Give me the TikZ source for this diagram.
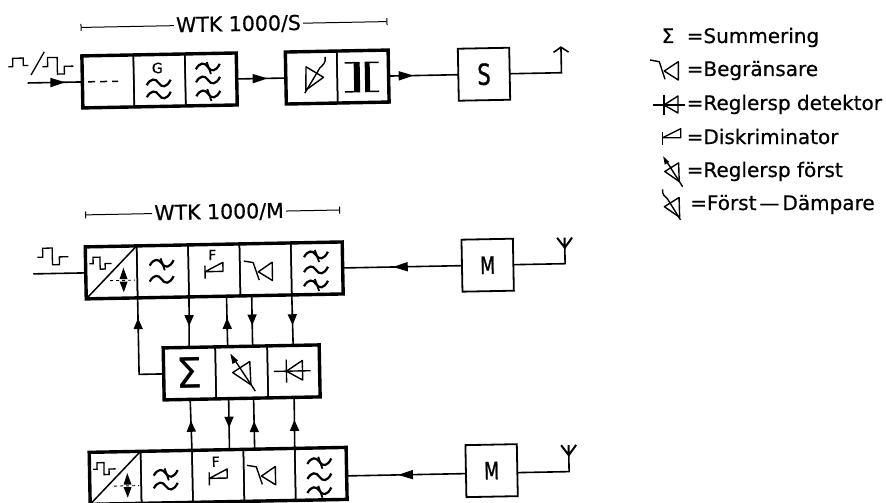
\documentclass[tikz,border=0pt]{standalone}
\usepackage{fontspec}
\setmainfont[FakeBold=0.6]{DejaVu Sans}
\newfontfamily\narrowfont[FakeStretch=.72, FakeBold=1]{DejaVu Sans}
\newfontfamily\sumfont{DejaVu Sans}
\usetikzlibrary{arrows.meta, calc, decorations.markings}
\tikzset{
  cell/.style={
    draw=black, line width=1.5pt, minimum width=51.4pt, minimum height=52pt,
    inner sep=0pt, outer sep=0pt
  },
  block/.style={cell, line width=1.8pt, font=\narrowfont\fontsize{24}{26}\selectfont},
  frame/.style={line width=3.4pt, line join=miter},
  conn/.style={line width=1.6pt},
  arr/.style={
    conn, postaction={decorate},
    decoration={markings, mark=at position #1 with {\arrow{Triangle[length=11pt,width=9pt]}}}
  },
  bigarr/.style={
    conn, postaction={decorate},
    decoration={markings, mark=at position #1 with {\arrow{Triangle[length=15pt,width=9pt]}}}
  },
  span/.style={line width=1pt, {Bar[width=7pt,length=1pt]}-},
  title/.style={font=\fontsize{20.5}{24}\selectfont, inner sep=2pt},
  legend/.style={font=\fontsize{20}{24}\selectfont, anchor=base west, inner sep=0pt},
  tag/.style={font=\fontsize{14}{15}\selectfont, inner sep=0pt},
  glyph/.style={line width=1.4pt, line join=round},
  pics/wave/.style={code={
    \draw[line width=2.2pt] (-12,2) .. controls (-8,-5) and (-3,-5) .. (0,0) .. controls (3,5) and (8,5) .. (12,-3);
  }},
  pics/swave/.style={code={
    \draw[line width=2.2pt] (-12,2) .. controls (-8,-5) and (-3,-5) .. (0,0) .. controls (3,5) and (8,5) .. (12,-3);
    \draw[line width=1.8pt] (-1,-5) -- (3,7);
  }},
  pics/limiter/.style={code={
    \draw[glyph] (-0.7,1) -- (13.3,-8.3) -- (13.3,10) -- cycle;
    \draw[glyph] (-15,-10) -- (-5.7,-8.3) -- (0,9.3);
  }},
  pics/diode/.style={code={
    \draw[glyph] (-16,0) -- (16,0);
    \draw[glyph] (-5,0) -- (9,-9) -- (9,8) -- cycle;
    \draw[glyph] (-5,-10) -- (-5,10);
  }},
  pics/discr/.style={code={
    \draw[glyph] (0,-6) -- (0,7);
    \draw[glyph] (0,0) -- (18,0) -- (18,-9) -- cycle;
  }},
  pics/ampl/.style={code={
    \draw[glyph] (-9,0) -- (8.3,-10.8) -- (9,12.5) -- cycle;
    \draw[glyph] (-7,-13) -- (13.3,19);
    \fill (-11,-19) -- (-3.5,-12) -- (-9,-8.5) -- cycle;
  }},
  pics/damper/.style={code={
    \draw[glyph] (-9,0) -- (8.3,-10.8) -- (9,12.5) -- cycle;
    \draw[glyph] (10,15.5) -- (-5.5,-9.5) .. controls (-8,-12) and (-12,-14) .. (-11,-20.5);
  }},
  pics/delay/.style={code={
    \fill (-8.6,-14) rectangle (-2.6,15);
    \fill (2.4,-14) rectangle (7.4,15);
    \draw[line width=1.5pt] (-17.6,-14) -- (-2.6,-14) (-17.6,15) -- (-2.6,15);
    \draw[line width=1.5pt] (2.4,-14) -- (16.4,-14) (2.4,15) -- (16.4,15);
  }},
  pics/pulse/.style={code={
    \draw[line width=1.3pt] (0,0) -- (5.4,0) -- (5.4,-9) -- (15,-9) -- (15,7.7) -- (22,7.7) -- (22,0) -- (31,0);
  }},
  pics/adda/.style={code={
    \pic[scale=.72] at (-22,-9) {pulse};
    \draw[line width=.9pt, dashed] (-1.5,8.2) -- (23.5,8.2);
    \fill (12,-4.5) -- (16,7) -- (8,7) -- cycle;
    \fill (12,20) -- (16,9.5) -- (8,9.5) -- cycle;
  }},
  pics/antenna/.style={code={
    \draw[line width=2pt] (-7.5,-10) -- (0,0) -- (7.5,-10) (0,0) -- (0,-10);
  }},
}

\begin{document}
\begin{tikzpicture}[x=1pt, y=-1pt]
    \useasboundingbox (0,0) rectangle (886,503);

    \begin{scope}[rotate=1.1, transform shape]
        % WTK 1000/S
        \node[title] (wtks) at (238,29) {WTK 1000/S};
        \coordinate (sleft) at (80,29);
        \coordinate (sright) at (387,29);
        \draw[span] (sleft) -- (wtks);
        \draw[span] (sright) -- (wtks);

        \node[cell] (sa) at (106.5,83.5) {};
        \node[cell] (sb) at (158,83.5) {};
        \node[cell] (sc) at (209.5,83.5) {};
        \draw[frame] (sa.north west) -- (sc.north east) -- (sc.south east) -- (sa.south west) -- cycle;
        \node[cell] (sd) at (310,83.5) {};
        \node[cell] (se) at (361.4,83.5) {};
        \draw[frame] (sd.north west) -- (se.north east) -- (se.south east) -- (sd.south west) -- cycle;
        \node[block, font=\narrowfont\fontsize{29}{30}\selectfont] (sbox) at (482.5,83.5) {S};

        \coordinate (sin) at (26,83.5);
        \coordinate (sout) at (560,57);
        \draw[bigarr=0.69] (sin) -- (sa.west);
        \draw[bigarr=0.63] (sc.east) -- (sd.west);
        \draw[bigarr=0.36] (se.east) -- (sbox.west);
        \draw[conn, -{Straight Barb[length=5pt,width=15pt]}] (sbox.east) -| (sout);

        % Signal forms at the input
        \draw[line width=1.3pt] (7,67) -- (11.5,67) -- (11.5,58.5) -- (22,58.5) -- (22,66) -- (27,66);
        \pic at (41,67.5) {pulse};
        \draw[line width=1.3pt] (29.6,75.6) -- (43.3,52.6);

        % Cell contents, upper chain
        \draw[line width=1.5pt, dash pattern=on 7pt off 5pt] (86.5,83.5) -- (116.5,83.5);
        \node[tag] (gmark) at (156,71) {G};
        \pic at (157,86) {wave};
        \pic at (157,98) {wave};
        \pic at (206.5,71) {swave};
        \pic at (206.5,84) {wave};
        \pic at (206.5,98) {swave};
        \pic[xscale=-1] at (313,83.5) {damper};
        \pic at (361,83.5) {delay};

        % WTK 1000/M
        \node[title] (wtkm) at (215,216.5) {WTK 1000/M};
        \coordinate (mleft) at (81,216.5);
        \coordinate (mright) at (336,216.5);
        \draw[span] (mleft) -- (wtkm);
        \draw[span] (mright) -- (wtkm);

        % Receiver chain
        \node[cell] (ra) at (106.2,274.5) {};
        \node[cell] (rb) at (157.6,274.5) {};
        \node[cell] (rc) at (209,274.5) {};
        \node[cell] (rd) at (260.4,274.5) {};
        \node[cell] (re) at (311.8,274.5) {};
        \draw[frame] (ra.north west) -- (re.north east) -- (re.south east) -- (ra.south west) -- cycle;
        \draw[line width=1.5pt] (ra.south west) -- (ra.north east);
        \node[block] (rbox) at (482.5,274.5) {M};

        % Control chain
        \node[cell, minimum width=52pt] (sum) at (182.5,377) {\sumfont\fontsize{42}{44}\selectfont Σ};
        \node[cell, minimum width=52pt] (fa) at (234.5,377) {};
        \node[cell, minimum width=52pt] (det) at (286.5,377) {};
        \draw[frame] (sum.north west) -- (det.north east) -- (det.south east) -- (sum.south west) -- cycle;

        % Second receiver chain
        \node[cell] (la) at (106.2,480) {};
        \node[cell] (lb) at (157.6,480) {};
        \node[cell] (lc) at (209,480) {};
        \node[cell] (ld) at (260.4,480) {};
        \node[cell] (le) at (311.8,480) {};
        \draw[frame] (la.north west) -- (le.north east) -- (le.south east) -- (la.south west) -- cycle;
        \draw[line width=1.5pt] (la.south west) -- (la.north east);
        \node[block] (lbox) at (482.5,480) {M};

        % Outer connectors
        \coordinate (rin) at (28,274.5);
        \coordinate (rant) at (560,258.5);
        \coordinate (lant) at (560,466);
        \draw[conn] (rin) -- (ra.west);
        \draw[bigarr=0.58] (rbox.west) -- (re.east);
        \draw[conn] (rbox.east) -| (rant);
        \draw[bigarr=0.57] ([yshift=-2.5pt]lbox.west) -- ([yshift=-2.5pt]le.east);
        \draw[conn] ([yshift=-2.5pt]lbox.east) -| (lant);
        \pic at (rant) {antenna};
        \pic at (lant) {antenna};
        \pic at (32.4,258) {pulse};

        % Between receiver chain and control chain
        \draw[arr=0.58] (rc.south west) -- (sum.north);
        \draw[arr=0.57] ($(fa.north west)!.24!(fa.north east)$) -- ($(rc.south west)!.73!(rc.south east)$);
        \draw[arr=0.59] ($(rd.south west)!.22!(rd.south east)$) -- ($(fa.north west)!.72!(fa.north east)$);
        \draw[arr=0.60] (rd.south east) -- (det.north);
        \draw[arr=0.80] (sum.west) -| (ra.south east);

        % Between control chain and second receiver chain
        \draw[arr=0.58] (lc.north west) -- (sum.south);
        \draw[arr=0.57] ($(fa.south west)!.24!(fa.south east)$) -- ($(lc.north west)!.73!(lc.north east)$);
        \draw[arr=0.55] ($(ld.north west)!.22!(ld.north east)$) -- ($(fa.south west)!.72!(fa.south east)$);
        \draw[arr=0.56] (ld.north east) -- (det.south);

        % Cell contents, receiver chain
        \pic at (106.2,274.5) {adda};
        \pic at (156.6,266.4) {swave};
        \pic at (156.3,282.4) {wave};
        \node[tag] (fmark) at (207.4,259) {F};
        \pic at (199.8,275.6) {discr};
        \pic at (253.8,275.7) {limiter};
        \pic at (311,261) {swave};
        \pic at (310.8,276) {wave};
        \pic at (310.5,290) {swave};

        % Cell contents, control chain
        \pic at (234.5,377) {ampl};
        \pic[scale=1.15] at (285,376.6) {diode};

        % Cell contents, second receiver chain
        \pic at (106.2,480) {adda};
        \pic at (156.6,476.5) {swave};
        \pic at (156.4,489.2) {wave};
        \node[tag] (gfmark) at (206.8,465.8) {F};
        \pic at (200.1,482.3) {discr};
        \pic at (253,480) {limiter};
        \pic at (310.4,467.8) {swave};
        \pic at (310.2,482.8) {wave};
        \pic at (309.9,496.8) {swave};
    \end{scope}

    % Legend
    \node[font=\fontsize{20}{24}\selectfont, anchor=base, inner sep=0pt] (lsum) at (668,43) {Σ};
    \node[legend] (tsum) at (686.5,43) {=Summering};
    \pic at (665,70) {limiter};
    \node[legend] (tlim) at (686.5,76) {=Begränsare};
    \pic at (669,105) {diode};
    \node[legend] (tdet) at (686.5,110) {=Reglersp detektor};
    \pic at (662.7,137.7) {discr};
    \node[legend] (tdis) at (686.5,144) {=Diskriminator};
    \pic[scale=.8] at (672,171.5) {ampl};
    \node[legend] (tamp) at (686.5,177) {=Reglersp först};
    \pic[scale=.85] at (672,206.7) {damper};
    \node[legend] (tdam) at (690,210) {=Först\kern3pt—\kern3pt Dämpare};
\end{tikzpicture}
\end{document}
